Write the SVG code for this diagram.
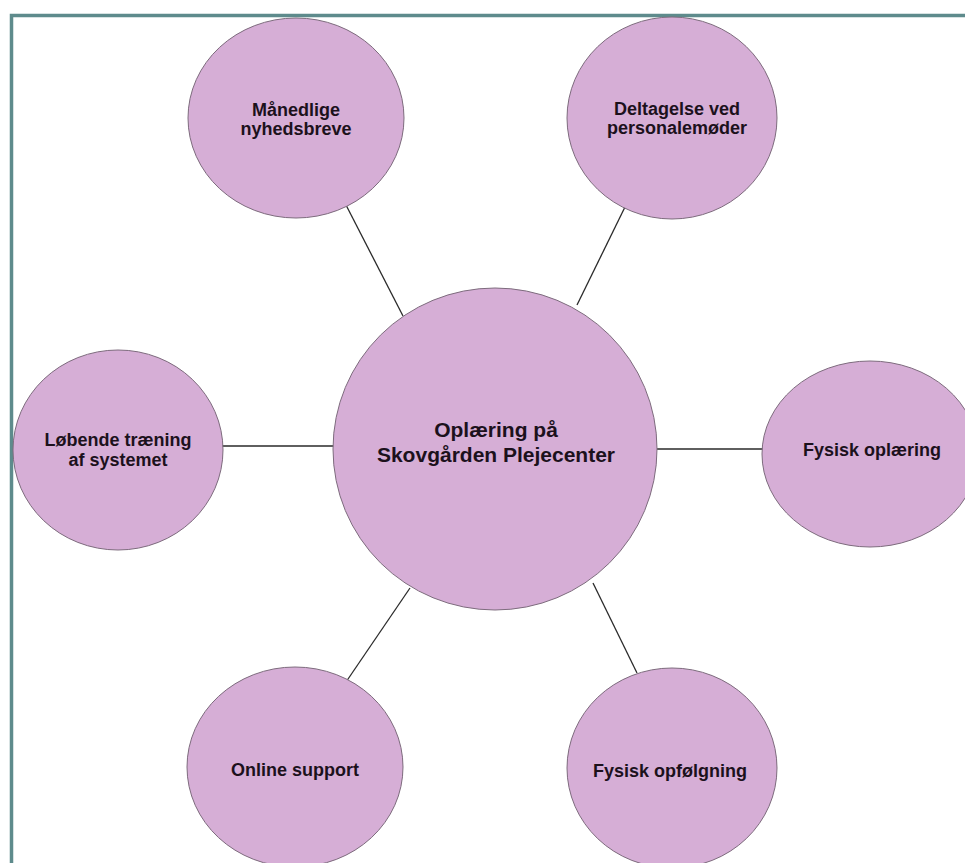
<svg xmlns="http://www.w3.org/2000/svg" width="965" height="863" viewBox="0 0 965 863">
<style>
.node ellipse{fill:#d6aed6;stroke:#7d6b7d;stroke-width:1}
.node text{font-family:"Liberation Sans",Arial,sans-serif;font-weight:bold;font-size:18px;fill:#1c111c;text-anchor:middle}
#center text{font-size:21px}
.conn line{stroke:#2a2a2a;stroke-width:1.3}
</style>
<rect x="0" y="0" width="965" height="863" fill="#ffffff"/>
<rect x="11.5" y="15.5" width="970" height="870" fill="none" stroke="#5e8b8c" stroke-width="3.5"/>
<g class="conn" id="connectors">
<line x1="346" y1="205" x2="403" y2="316"/>
<line x1="625" y1="207" x2="577" y2="305"/>
<line x1="222" y1="446" x2="334" y2="446"/>
<line x1="657" y1="449" x2="763" y2="449"/>
<line x1="410" y1="588" x2="346" y2="682"/>
<line x1="593" y1="583" x2="637" y2="673"/>
</g>
<g class="node" id="center">
<ellipse cx="495" cy="449" rx="162" ry="161"/>
<text x="496" y="437">Oplæring på</text>
<text x="496" y="462">Skovgården Plejecenter</text>
</g>
<g class="node" id="manedlige">
<ellipse cx="296" cy="118" rx="108" ry="100"/>
<text x="296" y="116">Månedlige</text>
<text x="296" y="135">nyhedsbreve</text>
</g>
<g class="node" id="deltagelse">
<ellipse cx="672" cy="118" rx="105" ry="101"/>
<text x="677" y="115">Deltagelse ved</text>
<text x="677" y="134">personalemøder</text>
</g>
<g class="node" id="lobende">
<ellipse cx="118" cy="450" rx="105" ry="100"/>
<text x="118" y="446">Løbende træning</text>
<text x="118" y="466">af systemet</text>
</g>
<g class="node" id="fysisk-oplaering">
<ellipse cx="870" cy="454" rx="108" ry="93"/>
<text x="872" y="456">Fysisk oplæring</text>
</g>
<g class="node" id="online-support">
<ellipse cx="295" cy="767" rx="108" ry="100"/>
<text x="295" y="776">Online support</text>
</g>
<g class="node" id="fysisk-opfolgning">
<ellipse cx="672" cy="768" rx="105" ry="100"/>
<text x="670" y="777">Fysisk opfølgning</text>
</g>
</svg>
